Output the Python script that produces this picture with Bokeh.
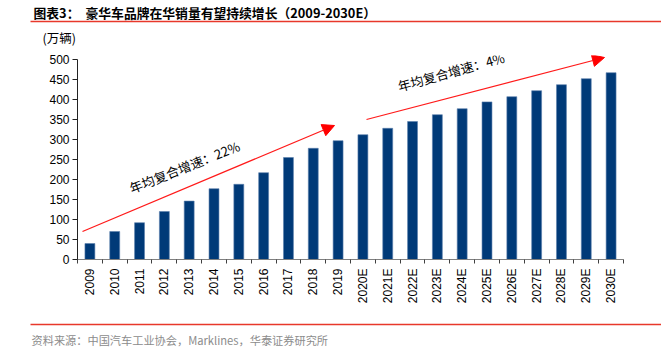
from bokeh.plotting import figure
from bokeh.models import (FactorRange, Range1d, LinearAxis, CategoricalAxis, FixedTicker,
                          Label, Arrow, NormalHead)
from bokeh.layouts import column
from bokeh.embed import file_html
from bokeh.resources import INLINE
import math

years = ["2009", "2010", "2011", "2012", "2013", "2014", "2015", "2016", "2017", "2018", "2019",
         "2020E", "2021E", "2022E", "2023E", "2024E", "2025E", "2026E", "2027E", "2028E", "2029E", "2030E"]
sales = [40, 70, 92, 120, 146, 177, 188, 217, 255, 278, 297,
         312, 328, 345, 362, 377, 394, 407, 422, 437, 452, 467]
y_ticks = [0, 50, 100, 150, 200, 250, 300, 350, 400, 450, 500]

title_prefix = "图表3："
title_text = "豪华车品牌在华销量有望持续增长（2009-2030E）"
unit_text = "(万辆)"
cagr1 = "年均复合增速：22%"
cagr2 = "年均复合增速：4%"
source_text = "资料来源：中国汽车工业协会，Marklines，华泰证券研究所"

CJK = "Noto Sans CJK SC"
LAT = "Liberation Sans"
RED = "#E8382B"

W = 661
TOP_H = 46      # header strip (title, red rule, unit)
BOT_H = 34      # footer strip (red rule, source)
MAIN_H = 352 - TOP_H - BOT_H

def strip(h):
    f = figure(width=W, height=h, x_range=Range1d(0, W), y_range=Range1d(h, 0),
               output_backend="svg", toolbar_location=None, frame_align=False,
               min_border=0, x_axis_location=None, y_axis_location=None)
    f.outline_line_color = None
    f.xgrid.visible = False
    f.ygrid.visible = False
    return f

# ---------- header ----------
top = strip(TOP_H)
top.add_layout(Label(x=33, y=12, text=title_prefix, text_font=CJK, text_font_size="12.8px",
                     text_font_style="bold", text_color="#000000", text_baseline="middle"))
top.add_layout(Label(x=85, y=12, text=title_text, text_font=CJK, text_font_size="12.8px",
                     text_font_style="bold", text_color="#000000", text_baseline="middle"))
top.segment(x0=[30], y0=[21], x1=[W], y1=[21], line_color=RED, line_width=1.3)
top.add_layout(Label(x=42, y=37, text=unit_text, text_font=CJK, text_font_size="12.5px",
                     text_color="#000000", text_baseline="middle"))

# ---------- main chart ----------
L, R = 77, 38
frame_top, frame_bottom = 55 - TOP_H, 259 - TOP_H
T = frame_top
B = MAIN_H - frame_bottom
n = len(years)
fw = W - L - R
ymax = 510.0
fh = MAIN_H - T - B

def dx(px):
    return (px - L) / fw * n

def dy(py):
    return (frame_bottom - (py - TOP_H)) / fh * ymax

p = figure(width=W, height=MAIN_H, x_range=FactorRange(*years), y_range=Range1d(0, ymax),
           output_backend="svg", toolbar_location=None, x_axis_location=None,
           y_axis_location=None, min_border_left=L, min_border_right=R,
           min_border_top=T, min_border_bottom=B, frame_align=False)
p.outline_line_color = None
p.xgrid.visible = False
p.ygrid.visible = False

p.vbar(x=years, top=sales, width=0.4, fill_color="#003A78", line_color="#5B7FAD", line_width=0.6)

yax = LinearAxis(ticker=FixedTicker(ticks=y_ticks), bounds=(0, 500))
yax.major_tick_out = 5
yax.major_tick_in = 0
yax.minor_tick_line_color = None
yax.axis_line_color = "#222222"
yax.major_tick_line_color = "#222222"
yax.major_label_text_font = LAT
yax.major_label_text_font_size = "12px"
yax.major_label_text_color = "#000000"
yax.major_label_standoff = 3
p.add_layout(yax, "left")

tax = LinearAxis(ticker=FixedTicker(ticks=list(range(n + 1))))
tax.major_tick_out = 4
tax.major_tick_in = 0
tax.minor_tick_line_color = None
tax.axis_line_color = "#808080"
tax.major_tick_line_color = "#404040"
tax.major_label_text_font_size = "1px"
tax.major_label_text_color = None
tax.major_label_standoff = 0
p.add_layout(tax, "below")

xax = CategoricalAxis()
xax.axis_line_color = None
xax.major_tick_line_color = None
xax.major_tick_out = 0
xax.major_label_orientation = math.pi / 2
xax.major_label_text_font = LAT
xax.major_label_text_font_size = "12px"
xax.major_label_text_color = "#000000"
xax.major_label_standoff = 5
p.add_layout(xax, "below")

p.add_layout(Arrow(x_start=dx(82), y_start=dy(231), x_end=dx(334), y_end=dy(125),
                   line_color="#FF1A1A", line_width=1.2,
                   end=NormalHead(size=12, fill_color="#FF0000", line_color="#FF0000")))
p.add_layout(Arrow(x_start=dx(366), y_start=dy(119), x_end=dx(604), y_end=dy(57),
                   line_color="#FF1A1A", line_width=1.2,
                   end=NormalHead(size=12, fill_color="#FF0000", line_color="#FF0000")))

p.add_layout(Label(x=dx(133), y=dy(197), text=cagr1, angle=0.38, text_font=CJK,
                   text_font_size="13px", text_color="#000000"))
p.add_layout(Label(x=dx(400), y=dy(95), text=cagr2, angle=0.27, text_font=CJK,
                   text_font_size="13px", text_color="#000000"))

# ---------- footer ----------
bot = strip(BOT_H)
bot.segment(x0=[30], y0=[6], x1=[W], y1=[6], line_color=RED, line_width=1.3)
bot.add_layout(Label(x=31, y=21, text=source_text, text_font=CJK, text_font_size="11.2px",
                     text_color="#8C8C8C", text_baseline="middle"))

layout = column(top, p, bot, spacing=0)
open("out.html", "w").write(file_html(layout, INLINE))
